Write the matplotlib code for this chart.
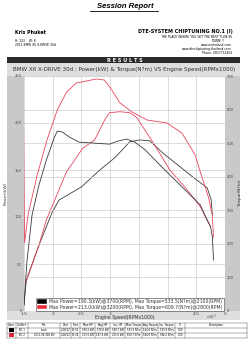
import numpy as np
import matplotlib.pyplot as plt
from matplotlib.patches import Rectangle

# engine speed (RPM x1000) and values
rpm_pw_black = [1.50, 1.54, 1.76, 1.99, 2.11, 2.50, 2.82, 3.08, 3.25, 3.34, 3.52, 3.69, 3.92, 4.43, 4.69, 4.76, 4.78]
pw_black = [6, 33, 70, 105, 118, 132, 150, 163, 174, 180, 182, 181, 168, 143, 131, 118, 102]

rpm_tq_black = [1.50, 1.55, 1.64, 1.76, 1.89, 2.03, 2.08, 2.17, 2.29, 2.46, 2.73, 2.99, 3.13, 3.29, 3.43,
                3.61, 3.90, 4.31, 4.57, 4.69, 4.75, 4.78, 4.80]
tq_black = [18, 146, 286, 375, 450, 518, 536, 533, 518, 503, 500, 497, 506, 512, 503,
            480, 429, 360, 316, 271, 250, 220, 152]

rpm_pw_red = [1.52, 1.76, 1.89, 2.24, 2.52, 2.73, 2.82, 2.92, 2.99, 3.17, 3.34, 3.46, 3.75, 4.04, 4.34, 4.57, 4.66, 4.75]
pw_red = [28, 70, 97, 148, 173, 182, 193, 205, 211, 212, 211, 206, 179, 150, 129, 111, 100, 90]

rpm_tq_red = [1.49, 1.51, 1.57, 1.73, 1.90, 2.08, 2.24, 2.41, 2.50, 2.76, 2.90, 3.03, 3.17, 3.38,
              3.64, 3.99, 4.25, 4.48, 4.57, 4.71, 4.78, 4.80]
tq_red = [614, 203, 286, 405, 509, 599, 652, 679, 682, 691, 688, 658, 620, 593,
          569, 560, 530, 465, 414, 340, 286, 220]

legend_labels = ["Max Power=190.3(kW)@3700(RPM), Max Torque=533.5(N?m)@2100(RPM)",
                 "Max Power=213.0(kW)@3200(RPM), Max Torque=609.7(N?m)@2800(RPM)"]

x_ticks = [1.5, 2, 2.5, 3, 3.5, 4, 4.5, 5]
# 3.5 and 4 sit under the axis title on the sheet
x_ticklabels = ["1.5", "2", "2.5", "3", "", "", "4.5", "5"]
pw_ticks = [0, 50, 100, 150, 200, 250]
tq_ticks = [0, 100, 200, 300, 400, 500, 600, 700]

table_header = ["Color", "UnitRef", "File", "Date", "Time", "Max HP", "Avg HP", "Ins. HP",
                "Max Torque", "Avg Torque", "Ins. Torque", "LP", "Description"]
table_rows = [["", "BC 1", "stock", "2/28/12", "13:01", "190.3 kW", "176.0 kW", "180.7 kW",
               "533.5 N?m", "524.6 N?m", "525.9 N?m", "1.00", ""],
              ["", "BC 2", "2011 X6 30D EN", "2/28/12", "13:34", "213.0 kW", "187.4 kW", "201.6 kW",
               "609.7 N?m", "584.0 N?m", "596.2 N?m", "1.00", ""]]
row_colors = ["#000000", "#e8283c"]
col_edges = [7, 16, 28, 60, 71, 80, 95, 110, 125, 142, 158, 175, 185, 247]

BLACK = "#3a3a3a"
RED = "#e8465e"
GRID = "#cfcfcf"
W, H = 250, 342

fig = plt.figure(figsize=(W / 100, H / 100), dpi=100)
fig.patch.set_facecolor("white")
plt.rcParams['font.family'] = ['DejaVu Sans']

# page layer in pixel coordinates
bg = fig.add_axes([0, 0, 1, 1])
bg.set_xlim(0, W)
bg.set_ylim(H, 0)
bg.axis('off')

bg.text(125, 6.5, "Session Report", ha='center', va='center', fontsize=5.6,
        fontweight='bold', fontstyle='italic', family='Liberation Sans')
bg.plot([90, 158], [10.5, 10.5], color='black', lw=0.6)

bg.text(15, 32, "Kris Phuket", ha='left', va='center', fontsize=3.4, fontweight='bold')
bg.text(15, 41, "H: 123    W: 8", ha='left', va='center', fontsize=2.2)
bg.text(15, 45, "2011 BMW X6 X-DRIVE 30d", ha='left', va='center', fontsize=2.2)

bg.text(233, 32, "DTE-SYSTEM CHIPTUNING NO.1 (I)", ha='right', va='center', fontsize=3.5, fontweight='bold')
right_lines = ["THE PLACE WHERE YOU GET THE BEST TUNE IN", "TOWN!!!", "www.eurkaland.com",
               "www.dtechiptuning-thailand.com", "Phone: 0817732454"]
for i, s in enumerate(right_lines):
    bg.text(232 if i != 1 else 224, 37 + 4 * i, s, ha='right', va='center', fontsize=2.2)

# results bar
bg.add_patch(Rectangle((7, 57), 233, 6, facecolor='#2b2b2b', edgecolor='none'))
bg.text(125, 60.2, "R E S U L T S", ha='center', va='center', fontsize=3.6, fontweight='bold', color='white')

# chart panel
bg.add_patch(Rectangle((7, 63), 233, 257, facecolor='#dedede', edgecolor='none'))
bg.add_patch(Rectangle((7, 76), 17, 235, facecolor='#c9c9c9', edgecolor='none'))
bg.add_patch(Rectangle((225, 76), 15, 235, facecolor='#c9c9c9', edgecolor='none'))
bg.text(124, 69.5, "BMW X6 X-DRIVE 30d : Power(kW) & Torque(N?m) VS Engine Speed(RPMx1000)",
        ha='center', va='center', fontsize=4.1, color='#333333')

# result table
top, hh, rh = 323, 4.5, 5
bottom = top + hh + rh * len(table_rows)
for x in col_edges:
    bg.plot([x, x], [top, bottom], color='#444444', lw=0.3)
for y in [top, top + hh] + [top + hh + rh * (i + 1) for i in range(len(table_rows))]:
    bg.plot([col_edges[0], col_edges[-1]], [y, y], color='#444444', lw=0.3)
for j, name in enumerate(table_header):
    bg.text((col_edges[j] + col_edges[j + 1]) / 2, top + hh / 2, name, ha='center', va='center', fontsize=1.9)
for i, row in enumerate(table_rows):
    yc = top + hh + rh * i + rh / 2
    bg.add_patch(Rectangle((col_edges[0] + 2, yc - 2), 5, 4, facecolor=row_colors[i], edgecolor='none'))
    for j, val in enumerate(row[1:], start=1):
        bg.text((col_edges[j] + col_edges[j + 1]) / 2, yc, val, ha='center', va='center', fontsize=1.8)

# dyno chart
ax = fig.add_axes([24 / W, 1 - 311 / H, 201 / W, 235 / H])
ax.set_facecolor('white')
ax2 = ax.twinx()

ax.plot(rpm_pw_black, pw_black, color=BLACK, lw=0.6)
ax.plot(rpm_pw_red, pw_red, color=RED, lw=0.6)
ax2.plot(rpm_tq_black, tq_black, color=BLACK, lw=0.6)
ax2.plot(rpm_tq_red, tq_red, color=RED, lw=0.6)

ax.set_xlim(1.5, 5)
ax.set_ylim(0, 250)
ax2.set_ylim(0, 700)
ax.set_xticks(x_ticks)
ax.set_xticklabels(x_ticklabels)
ax.set_yticks(pw_ticks)
ax2.set_yticks(tq_ticks)
for a in (ax, ax2):
    a.tick_params(length=0, labelsize=2.6, labelcolor='#444444', pad=1.5)
    for sp in a.spines.values():
        sp.set_visible(False)
ax.tick_params(axis='x', labelsize=3.2, pad=1)
ax.grid(True, color=GRID, lw=0.5)
ax2.grid(True, axis='y', color=GRID, lw=0.5)
ax.set_axisbelow(True)
ax2.set_axisbelow(True)
ax.set_ylabel("Power(kW)", fontsize=3.2, labelpad=5, color='#333333')
ax2.set_ylabel("Torque(N?m)", fontsize=3.2, labelpad=3, color='#333333')
ax.set_xlabel("Engine Speed(RPMx1000)", fontsize=3.3, labelpad=-1, color='#333333')
ax.text(0.96, -0.008, r"x10$^{3}$", transform=ax.transAxes, ha='right', va='top', fontsize=2.8, color='#444444')

handles = [Rectangle((0, 0), 1, 1, facecolor='black', edgecolor='white', lw=0.3),
           Rectangle((0, 0), 1, 1, facecolor=row_colors[1], edgecolor='white', lw=0.3)]
leg = ax2.legend(handles, legend_labels, loc='lower center', bbox_to_anchor=(0.527, 0.0),
                 fontsize=3.3, frameon=True, fancybox=False, handlelength=2.2, handleheight=1.2,
                 borderpad=0.3, labelspacing=0.15, handletextpad=0.4, borderaxespad=0)
leg.get_frame().set_edgecolor('black')
leg.get_frame().set_linewidth(0.4)
for t in leg.get_texts():
    t.set_color('#333333')

fig.savefig("out.png", dpi=100)
